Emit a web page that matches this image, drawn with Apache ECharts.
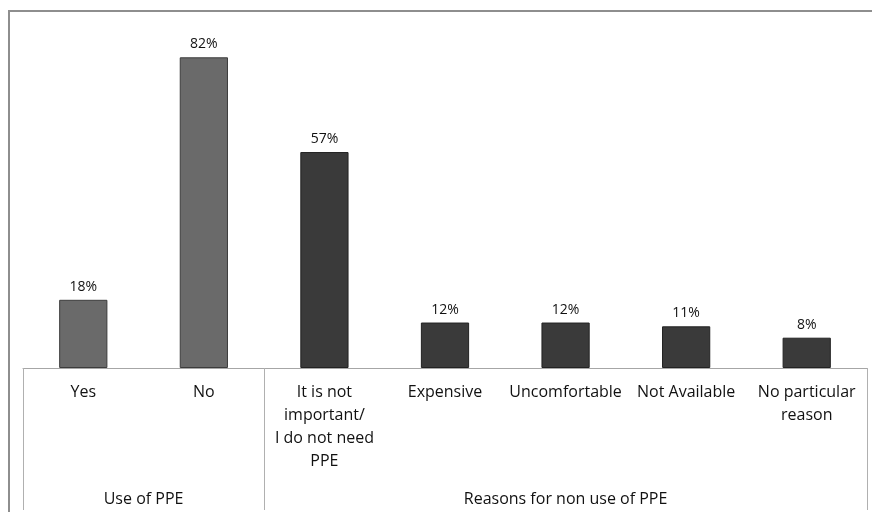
<!DOCTYPE html>
<html>
<head>
<meta charset="utf-8">
<script src="https://cdn.jsdelivr.net/npm/echarts@6/dist/echarts.min.js"></script>
<style>
  html, body { margin: 0; padding: 0; background: #fff; }
  #chart { width: 872px; height: 512px; }
</style>
</head>
<body>
<div id="chart"></div>
<script>
  // categories and values (percent)
  var categories = ['Yes', 'No', 'It is not\nimportant/\nI do not need\nPPE', 'Expensive', 'Uncomfortable', 'Not Available', 'No particular\nreason'];
  var values = [18, 82, 57, 12, 12, 11, 8];
  // group of each bar: 0 = use, 1 = reasons
  var barGroup = [0, 0, 1, 1, 1, 1, 1];
  var groups = ['Use of PPE', 'Reasons for non use of PPE'];
  var groupSpans = [2, 5];

  var groupColors = ['#6a6a6a', '#3a3a3a'];
  var groupBorders = ['#3c3c3c', '#222222'];

  // group boundaries and centers on a 0..n scale
  var bounds = [0], centers = [];
  groupSpans.forEach(function (s, i) {
    var start = bounds[bounds.length - 1];
    centers.push(start + s / 2);
    bounds.push(start + s);
  });

  var font = '"Open Sans", sans-serif';
  var chart = echarts.init(document.getElementById('chart'));

  var option = {
    animation: false,
    graphic: [{
      type: 'rect',
      shape: { x: 9, y: 11, width: 900, height: 560 },
      style: { fill: 'none', stroke: '#8e8e8e', lineWidth: 2 },
      silent: true
    }],
    grid: { left: 23, right: 5, top: 27, bottom: 144 },
    xAxis: [{
      type: 'category',
      data: categories,
      axisLine: { lineStyle: { color: '#a6a6a6', width: 1 } },
      axisTick: { interval: 0, length: 105, lineStyle: { color: '#b0b0b0' } },
      axisLabel: {
        interval: 0, margin: 13, fontFamily: font, fontSize: 16,
        lineHeight: 23, color: '#111'
      }
    }, {
      type: 'value',
      min: 0,
      max: bounds[bounds.length - 1],
      position: 'bottom',
      axisLine: { show: false },
      splitLine: { show: false },
      axisTick: { show: true, customValues: bounds, length: 142, lineStyle: { color: '#b0b0b0' } },
      axisLabel: {
        customValues: centers, margin: 120, fontFamily: font, fontSize: 16,
        lineHeight: 23, color: '#111',
        formatter: function (v) {
          var i = centers.indexOf(v);
          return i >= 0 ? groups[i] : '';
        }
      }
    }],
    yAxis: { type: 'value', min: 0, max: 90, show: false },
    series: [{
      type: 'bar',
      barWidth: '40%',
      data: values.map(function (v, i) {
        return {
          value: v,
          itemStyle: { color: groupColors[barGroup[i]], borderColor: groupBorders[barGroup[i]], borderWidth: 1 }
        };
      }),
      label: {
        show: true, position: 'top', distance: 6,
        fontFamily: font, fontSize: 14, color: '#111',
        formatter: '{c}%'
      }
    }]
  };

  chart.setOption(option);
</script>
</body>
</html>
